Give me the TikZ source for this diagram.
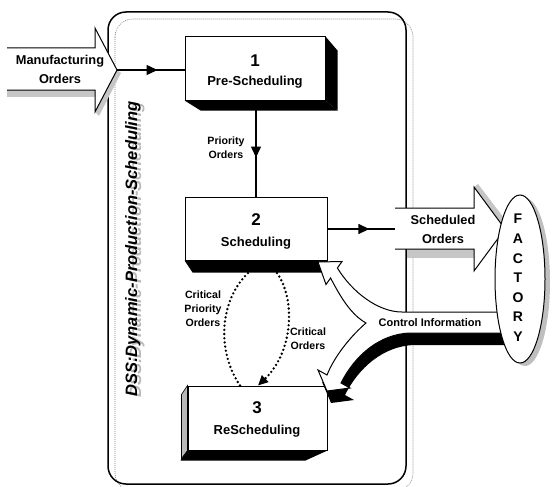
\documentclass[tikz,border=0pt]{standalone}
\usepackage{fontspec}
\setmainfont{Liberation Sans}
\usetikzlibrary{arrows.meta,decorations.markings,calc,shapes.geometric}
\begin{document}
\begin{tikzpicture}[x=1pt,y=-1pt,
  lbl/.style={font=\bfseries\fontsize{13}{14}\selectfont, inner sep=0},
  num/.style={font=\bfseries\fontsize{17}{18}\selectfont, inner sep=0},
  big/.style={font=\bfseries\fontsize{12.8}{19}\selectfont, align=center, inner sep=0},
  small/.style={font=\bfseries\fontsize{10.6}{13.8}\selectfont, align=center, inner sep=0},
  fac/.style={font=\bfseries\fontsize{14}{15}\selectfont, inner sep=0},
  face/.style={draw, line width=1pt, fill=white, inner sep=0},
  shade/.style={fill=black},
  hatch/.style={fill=gray!55, draw=black, line width=0.6pt},
  graysh/.style={fill=gray!45},
  hollow/.style={draw, line width=1pt, fill=white},
  flow/.style={line width=1.3pt},
  midarrow/.style={postaction=decorate, decoration={markings, mark=at position #1 with {\arrow{Triangle[length=11pt,width=10pt]}}}},
  dotline/.style={line width=2.6pt, dash pattern=on 0pt off 4.2pt, line cap=round}
]
\useasboundingbox (0,0) rectangle (554,487);
\fill[white] (0,0) rectangle (554,487);

% outer DSS frame
\draw[gray, line width=0.6pt, dash pattern=on 1pt off 1pt, rounded corners=18pt] (115,19) rectangle (413,491);
\draw[line width=1.5pt, rounded corners=18pt] (108,12) rectangle (406,484);

% vertical title
\node[rotate=90, anchor=base, text=gray!55, font=\bfseries\itshape\fontsize{16.5}{18}\selectfont] (dssg) at (141,250) {DSS:Dynamic-Production-Scheduling};
\node[rotate=90, anchor=base, font=\bfseries\itshape\fontsize{16.5}{18}\selectfont] (dss) at (137,249) {DSS:Dynamic-Production-Scheduling};

% box 1
\node[face, minimum width=140pt, minimum height=63pt] (b1) at (255,68.5) {};
\fill[shade] (b1.north east) -- ++(12,14) -- ($(b1.south east)+(12,10)$) -- (b1.south east) -- cycle;
\fill[shade] (b1.south west) -- (b1.south east) -- ++(12,10) -- ($(b1.south west)+(16,10)$) -- cycle;
\node[num] (n1) at (255,61) {1};
\node[lbl] (t1) at (255,82) {Pre-Scheduling};

% box 2
\node[face, minimum width=142pt, minimum height=63pt] (b2) at (256,228.5) {};
\fill[shade] (b2.south west) -- (b2.south east) -- ++(0,12) -- ($(b2.south west)+(8,12)$) -- cycle;
\node[num] (n2) at (256,220) {2};
\node[lbl] (t2) at (256,243) {Scheduling};

% box 3
\node[face, minimum width=139pt, minimum height=64pt] (b3) at (257.5,418) {};
\draw[hatch] (b3.north west) -- ++(-6,9) -- ($(b3.south west)+(-6,8)$) -- (b3.south west) -- cycle;
\fill[shade] (b3.south west) -- (b3.south east) -- ++(-22,10) -- ($(b3.south west)+(-7,10)$) -- ($(b3.south west)+(-6,8)$) -- cycle;
\node[num] (n3) at (257,408) {3};
\node[lbl] (t3) at (257,431) {ReScheduling};

% Manufacturing Orders input arrow
\fill[graysh] (7,90) rectangle (95,97);
\fill[graysh] (117,70) -- (121,73) -- (99,116) -- (95,112) -- cycle;
\draw[hollow] (7,48) -- (95,48) -- (95,28) -- (117,70) -- (95,112) -- (95,90) -- (7,90);
\node[big] (mo) at (60,69) {Manufacturing\\Orders};
\coordinate (mtip) at (117,70);
\draw[flow, midarrow=0.6] (mtip) -- (mtip -| b1.west);

% Priority Orders
\coordinate (pstart) at (256,110);
\draw[flow, midarrow=0.55] (pstart) -- (pstart -| b2.north) -- (b2.north);
\node[small] (po) at (226,147.5) {Priority\\Orders};

% Scheduled Orders output arrow
\fill[graysh] (407,249) rectangle (474,258);
\fill[graysh] (474,187) -- (478,184) -- (510,226) -- (505,229) -- cycle;
\draw[hollow] (395,208) -- (474,208) -- (474,187) -- (505,229) -- (474,271) -- (474,249) -- (395,249);
\coordinate (sotail) at (395,229);
\draw[flow, midarrow=0.62] (b2.east |- sotail) -- (sotail);
\node[big] (so) at (443,229.5) {Scheduled\\Orders};

% Control Information forked arrow
\fill[black, shift={(4,12)}] (366,323) .. controls (352,335) and (335,355) .. (327,375) -- (318,370) -- (327,391) -- (350,388) -- (341,383) .. controls (355,355) and (380,334) .. (410,333) -- (505,333) -- (505,312) -- (402,312) -- cycle;
\draw[hollow] (510,312) -- (402,312) .. controls (378,312) and (352,292) .. (337.4,268) -- (342,261.5) -- (318,262) -- (326,284.5) -- (330.6,278) .. controls (342,300) and (352,315) .. (366,323) .. controls (352,335) and (335,355) .. (327,375) -- (318,370) -- (327,391) -- (350,388) -- (341,383) .. controls (355,355) and (380,334) .. (410,333) -- (510,333) -- cycle;
\node[font=\bfseries\fontsize{11}{12}\selectfont, inner sep=0] (ci) at (430,323) {Control Information};

% Factory
\node[ellipse, fill=gray!50, minimum width=50pt, minimum height=168pt, inner sep=0] (facsh) at (525,282) {};
\node[ellipse, draw, line width=1pt, fill=white, minimum width=50pt, minimum height=168pt, inner sep=0] (factory) at (520,279) {};
\foreach \l [count=\i from 0] in {F,A,C,T,O,R,Y}
  \node[fac] (f\i) at (518,{219+19.6*\i}) {\l};

% dotted exchanges between 2 and 3
\coordinate (c1a) at ($(b3.north)+(-17.5,0)$);
\coordinate (c1b) at ($(b2.south)+(-8,12.5)$);
\draw[dotline] (c1a) .. controls (216,350) and (220,300) .. (c1b);
\coordinate (c2a) at ($(b2.south)+(21,12.5)$);
\coordinate (c2b) at ($(b3.north)+(0.5,0)$);
\draw[dotline, -{Triangle[length=10pt,width=9pt]}] (c2a) .. controls (296,300) and (293,352) .. (c2b);
\node[small] (cpo) at (203,309) {Critical\\Priority\\Orders};
\node[small] (co) at (308,339) {Critical\\Orders};
\end{tikzpicture}
\end{document}
